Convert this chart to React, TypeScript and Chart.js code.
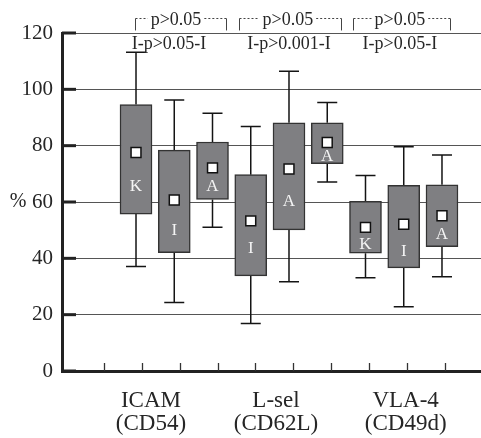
import React, { useEffect, useRef } from 'react';
import { Chart, registerables } from 'chart.js';

Chart.register(...registerables);

// ---- data ----
const positions = [1, 2, 3, 4, 5, 6, 7, 8, 9];
const whiskerHigh = [113.2, 96.2, 91.5, 86.8, 106.4, 95.3, 69.4, 79.6, 76.7];
const boxHigh = [94.6, 78.4, 81.3, 69.7, 88.1, 88.1, 60.2, 65.9, 66.1];
const boxLow = [55.7, 42.0, 60.9, 33.8, 50.1, 73.6, 41.8, 36.6, 44.1];
const whiskerLow = [37.1, 24.3, 51.0, 16.9, 31.7, 67.1, 33.1, 22.8, 33.5];
const means = [77.6, 60.7, 72.1, 53.3, 71.7, 81.1, 51.0, 52.1, 55.1];
const boxLetters = ['K', 'I', 'A', 'I', 'A', 'A', 'K', 'I', 'A'];
const letterY = [65.6, 50.0, 65.4, 43.4, 60.0, 76.3, 45.0, 42.3, 48.3];

const groupLabels = [['ICAM', '(CD54)'], ['L-sel', '(CD62L)'], ['VLA-4', '(CD49d)']];
const groupLabelX = [1.39, 4.66, 8.05];
const yTicks = [0, 20, 40, 60, 80, 100, 120];
const xMinorTicks = [0.163, 1.157, 2.15, 3.144, 4.111, 5.105, 6.098, 7.092, 8.085, 9.078];

const innerTests = ['I-p>0.05-I', 'I-p>0.001-I', 'I-p>0.05-I'];
const innerTestX = [1.863, 5.0, 7.9];
const innerTestBaseline = 114.4;

const bracketTests = ['p>0.05', 'p>0.05', 'p>0.05'];
const bracketStart = [0.974, 3.693, 6.673];
const bracketEnd = [3.353, 6.36, 9.21];
const bracketTextX = [2.046, 4.97, 7.9];
const bracketLineY = 125.2;
const bracketLegY = 120.9;
const bracketTextBaseline = 122.8;

const yUnitLabel = '%';
const yUnitAt = 60;

const SERIF = "'Liberation Serif', 'Times New Roman', Times, serif";
const TEXT = '#262626';

const decorPlugin = {
  id: 'boxDecor',
  beforeDatasetsDraw(chart: any) {
    const { ctx, scales } = chart;
    const x = scales.x;
    const y = scales.y;
    ctx.save();
    ctx.strokeStyle = '#141414';
    ctx.lineWidth = 1.5;
    positions.forEach((p, i) => {
      const px = x.getPixelForValue(p);
      const hi = y.getPixelForValue(whiskerHigh[i]);
      const lo = y.getPixelForValue(whiskerLow[i]);
      ctx.beginPath();
      ctx.moveTo(px, y.getPixelForValue(boxHigh[i]));
      ctx.lineTo(px, hi);
      ctx.moveTo(px - 10, hi);
      ctx.lineTo(px + 10, hi);
      ctx.moveTo(px, y.getPixelForValue(boxLow[i]));
      ctx.lineTo(px, lo);
      ctx.moveTo(px - 10, lo);
      ctx.lineTo(px + 10, lo);
      ctx.stroke();
    });
    ctx.restore();
  },
  afterDatasetsDraw(chart: any) {
    const { ctx, scales } = chart;
    const x = scales.x;
    const y = scales.y;
    ctx.save();
    ctx.fillStyle = '#f4f4f4';
    ctx.font = `17px ${SERIF}`;
    ctx.textAlign = 'center';
    ctx.textBaseline = 'middle';
    positions.forEach((p, i) => {
      ctx.fillText(boxLetters[i], x.getPixelForValue(p), y.getPixelForValue(letterY[i]));
    });
    ctx.restore();
  },
  afterDraw(chart: any) {
    const { ctx, scales, chartArea } = chart;
    const x = scales.x;
    const y = scales.y;
    ctx.save();
    // inward y ticks
    ctx.strokeStyle = '#222';
    ctx.lineWidth = 3;
    yTicks.forEach((v) => {
      const py = y.getPixelForValue(v);
      ctx.beginPath();
      ctx.moveTo(chartArea.left, py);
      ctx.lineTo(chartArea.left + 14, py);
      ctx.stroke();
    });
    // inward x ticks
    ctx.strokeStyle = '#333';
    ctx.lineWidth = 1.3;
    xMinorTicks.forEach((v) => {
      const px = Math.round(x.getPixelForValue(v)) + 0.5;
      ctx.beginPath();
      ctx.moveTo(px, chartArea.bottom);
      ctx.lineTo(px, chartArea.bottom - 8);
      ctx.stroke();
    });
    // % label
    ctx.fillStyle = TEXT;
    ctx.font = `20px ${SERIF}`;
    ctx.textAlign = 'center';
    ctx.textBaseline = 'middle';
    ctx.fillText(yUnitLabel, 18, y.getPixelForValue(yUnitAt));
    // inner tests
    ctx.font = `18px ${SERIF}`;
    ctx.textBaseline = 'alphabetic';
    innerTests.forEach((t, i) => {
      ctx.fillText(t, x.getPixelForValue(innerTestX[i]), y.getPixelForValue(innerTestBaseline));
    });
    // brackets
    const lineY = Math.round(y.getPixelForValue(bracketLineY)) + 0.5;
    const legY = y.getPixelForValue(bracketLegY);
    bracketTests.forEach((t, i) => {
      const x0 = Math.round(x.getPixelForValue(bracketStart[i])) + 0.5;
      const x1 = Math.round(x.getPixelForValue(bracketEnd[i])) + 0.5;
      const tx = x.getPixelForValue(bracketTextX[i]);
      const w = ctx.measureText(t).width;
      ctx.fillText(t, tx, y.getPixelForValue(bracketTextBaseline));
      ctx.strokeStyle = '#444';
      ctx.lineWidth = 1;
      ctx.setLineDash([]);
      ctx.beginPath();
      ctx.moveTo(x0, legY);
      ctx.lineTo(x0, lineY);
      ctx.moveTo(x1, legY);
      ctx.lineTo(x1, lineY);
      ctx.stroke();
      ctx.setLineDash([2, 2]);
      ctx.beginPath();
      ctx.moveTo(x0, lineY);
      ctx.lineTo(tx - w / 2 - 3, lineY);
      ctx.moveTo(tx + w / 2 + 3, lineY);
      ctx.lineTo(x1, lineY);
      ctx.stroke();
      ctx.setLineDash([]);
    });
    ctx.restore();
  },
};

export default function App() {
  const ref = useRef<HTMLCanvasElement | null>(null);
  useEffect(() => {
    if (!ref.current) return;
    const chart = new Chart(ref.current, {
      type: 'bar',
      data: {
        datasets: [
          {
            type: 'bar',
            data: positions.map((p, i) => ({ x: p, y: [boxLow[i], boxHigh[i]] })) as any,
            backgroundColor: '#7f7f82',
            borderColor: '#333333',
            borderWidth: 1.5,
            borderSkipped: false,
            barThickness: 32,
            order: 2,
          } as any,
          {
            type: 'scatter',
            data: positions.map((p, i) => ({ x: p, y: means[i] })),
            pointStyle: 'rect',
            pointRadius: 7,
            backgroundColor: '#ffffff',
            borderColor: '#111111',
            borderWidth: 1.5,
            order: 1,
          } as any,
        ],
      },
      options: {
        animation: false,
        responsive: false,
        events: [],
        layout: { autoPadding: false, padding: { top: 33, left: 0, right: 0, bottom: 0 } },
        plugins: { legend: { display: false }, tooltip: { enabled: false } },
        scales: {
          x: {
            type: 'linear',
            min: -0.935,
            max: 10.02,
            offset: false,
            grid: { display: false, drawTicks: false },
            border: { display: true, width: 3, color: '#222' },
            afterBuildTicks: (axis: any) => {
              axis.ticks = groupLabelX.map((v) => ({ value: v }));
            },
            afterFit: (s: any) => {
              s.height = 67;
              s.paddingLeft = 0;
              s.paddingRight = 0;
            },
            ticks: {
              callback: (_v: any, i: number) => groupLabels[i],
              font: { family: SERIF, size: 23, lineHeight: 1.0 },
              color: TEXT,
              padding: 18,
              maxRotation: 0,
              autoSkip: false,
            },
          },
          y: {
            type: 'linear',
            min: 0,
            max: 120,
            afterBuildTicks: (axis: any) => {
              axis.ticks = yTicks.map((v) => ({ value: v }));
            },
            afterFit: (s: any) => {
              s.width = 62;
              s.paddingTop = 0;
              s.paddingBottom = 0;
            },
            grid: { color: '#555', lineWidth: 1, drawTicks: false },
            border: { display: true, width: 3, color: '#222' },
            ticks: {
              font: { family: SERIF, size: 21 },
              color: TEXT,
              padding: 9,
            },
          },
        } as any,
      },
      plugins: [decorPlugin],
    });
    return () => chart.destroy();
  }, []);
  return (
    <div style={{ position: 'fixed', left: 0, top: 0, width: 481, height: 438, background: '#fff' }}>
      <canvas ref={ref} width={481} height={438} style={{ width: 481, height: 438, display: 'block' }} />
    </div>
  );
}
